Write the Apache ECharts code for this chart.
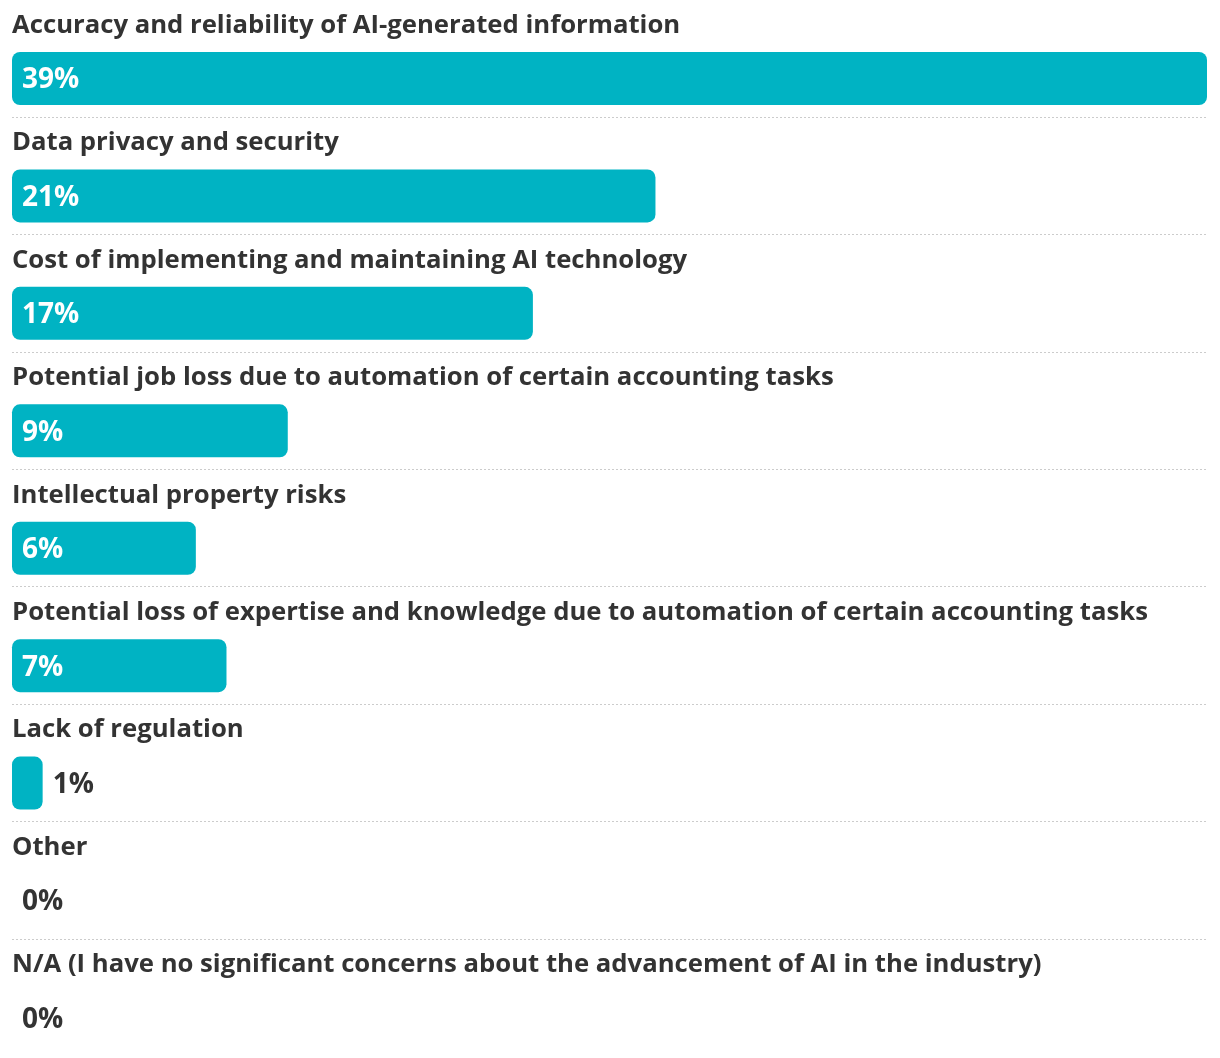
<!DOCTYPE html>
<html>
<head>
<meta charset="utf-8">
<script src="https://cdn.jsdelivr.net/npm/echarts@6/dist/echarts.min.js"></script>
<style>
html,body{margin:0;padding:0;background:#fff;}
#chart{width:1220px;height:1058px;}
</style>
</head>
<body>
<div id="chart"></div>
<script>
const categories = [
  "Accuracy and reliability of AI-generated information",
  "Data privacy and security",
  "Cost of implementing and maintaining AI technology",
  "Potential job loss due to automation of certain accounting tasks",
  "Intellectual property risks",
  "Potential loss of expertise and knowledge due to automation of certain accounting tasks",
  "Lack of regulation",
  "Other",
  "N/A (I have no significant concerns about the advancement of AI in the industry)"
];
const values = [39, 21, 17, 9, 6, 7, 1, 0, 0];

const FONT = "'Open Sans', 'Noto Sans', sans-serif";
const BAR = "#00b3c3";
const TEXT = "#333333";

const band = 117.43;
const barTop = 78.5 - band / 2;
const sepTop = 117 - band;

const barData = values.map(v => {
  const small = v < 3;
  return {
    value: v,
    label: small
      ? { position: 'right', distance: 10, color: TEXT }
      : { position: 'insideLeft', distance: 10, color: '#ffffff' }
  };
});

// one colour per boundary tick (categories + 1); hide the outer two
const sepColors = [];
for (let i = 0; i <= categories.length; i++) {
  sepColors.push(i === 0 || i === categories.length ? 'rgba(0,0,0,0)' : '#cccccc');
}

const chart = echarts.init(document.getElementById('chart'), null, { renderer: 'canvas' });
chart.setOption({
  animation: false,
  backgroundColor: '#ffffff',
  grid: [
    { left: 12, right: 13, top: barTop, height: band * categories.length, containLabel: false, outerBoundsMode: 'none' },
    { left: 12, right: 13, top: sepTop, height: band * categories.length, containLabel: false, outerBoundsMode: 'none' }
  ],
  xAxis: [
    { gridIndex: 0, type: 'value', min: 0, max: 39, show: false },
    { gridIndex: 1, type: 'value', min: 0, max: 39, show: false }
  ],
  yAxis: [
    { gridIndex: 0, type: 'category', data: categories, inverse: true,
      axisLine: { show: false }, axisTick: { show: false }, axisLabel: { show: false }, splitLine: { show: false } },
    { gridIndex: 1, type: 'category', data: categories, inverse: true,
      axisLine: { show: false }, axisTick: { show: false }, axisLabel: { show: false },
      splitLine: { show: true, lineStyle: { color: sepColors, type: [2, 2], width: 1 } } }
  ],
  series: [
    {
      type: 'bar',
      xAxisIndex: 0, yAxisIndex: 0,
      data: barData,
      barWidth: 53,
      itemStyle: { color: BAR, borderRadius: 8 },
      label: {
        show: true,
        offset: [0, 2],
        formatter: p => p.value + '%',
        fontFamily: FONT,
        fontSize: 28,
        fontWeight: 'bold'
      },
      silent: true
    },
    {
      type: 'scatter',
      xAxisIndex: 0, yAxisIndex: 0,
      data: categories.map(c => [0, c]),
      symbolSize: 0,
      itemStyle: { opacity: 1 },
      label: {
        show: true,
        position: 'right',
        distance: 0,
        offset: [0, -53],
        formatter: p => categories[p.dataIndex],
        fontFamily: FONT,
        fontSize: 25.7,
        fontWeight: 'bold',
        color: TEXT
      },
      silent: true
    }
  ]
});
</script>
</body>
</html>
